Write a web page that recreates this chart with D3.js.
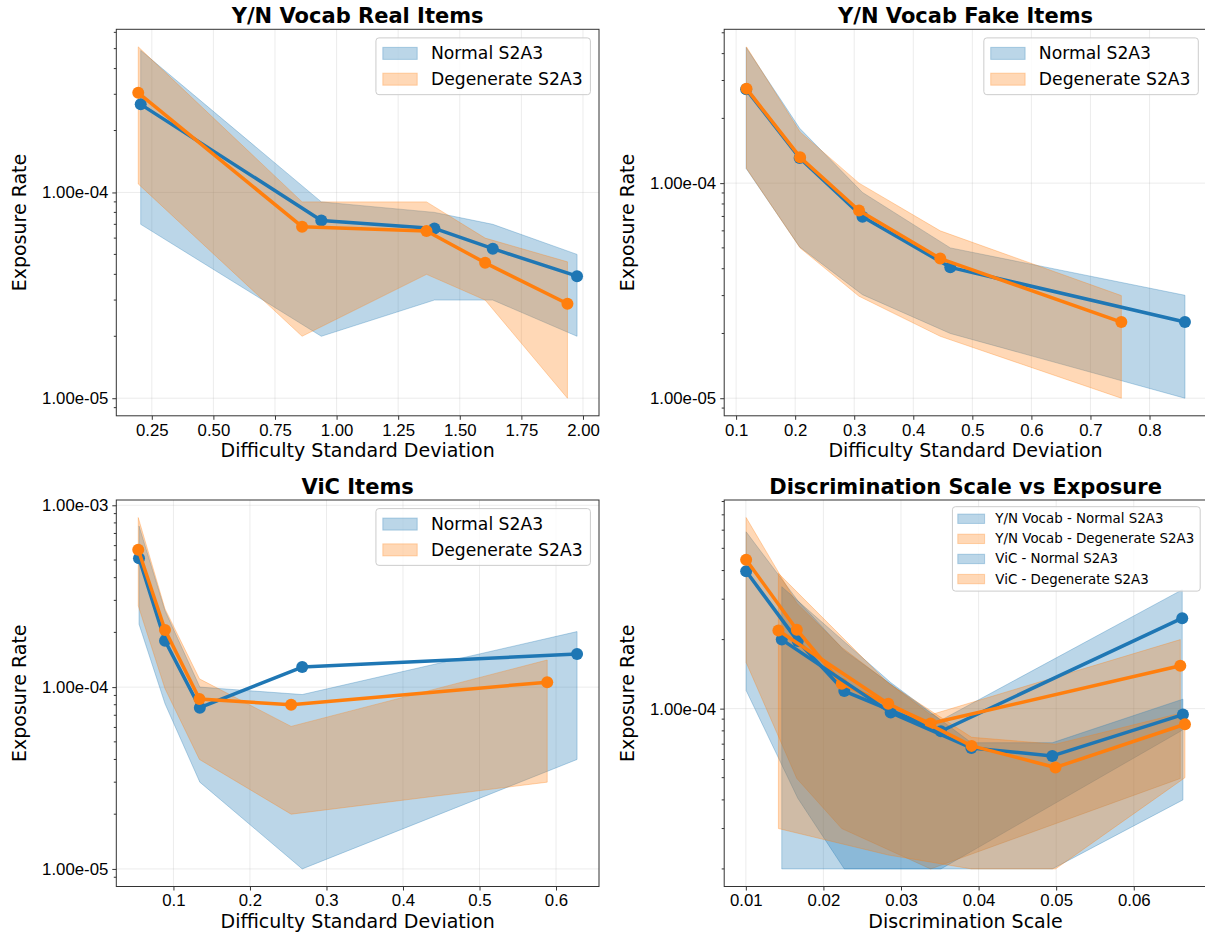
<!DOCTYPE html>
<html>
<head>
<meta charset="utf-8">
<script src="https://cdn.jsdelivr.net/npm/d3@7"></script>
<style>
  body { margin: 0; background: #fff; }
  svg { font-family: "DejaVu Sans", sans-serif; }
</style>
</head>
<body>
<svg id="chart" width="1205" height="935"></svg>
<script>
// ---- Y/N Vocab Real Items ----
const realX_normal  = [0.205, 0.938, 1.397, 1.634, 1.976];
const realY_normal  = [2.68e-4, 7.31e-5, 6.69e-5, 5.33e-5, 3.92e-5];
const realLo_normal = [7.0e-5, 2.0e-5, 3.0e-5, 3.0e-5, 2.0e-5];
const realHi_normal = [4.9e-4, 9.0e-5, 8.0e-5, 7.0e-5, 5.0e-5];
const realX_degen   = [0.195, 0.860, 1.365, 1.603, 1.937];
const realY_degen   = [3.05e-4, 6.82e-5, 6.5e-5, 4.55e-5, 2.88e-5];
const realLo_degen  = [1.1e-4, 2.0e-5, 4.0e-5, 3.0e-5, 1.0e-5];
const realHi_degen  = [5.1e-4, 9.0e-5, 9.0e-5, 6.0e-5, 4.6e-5];
const realTicks = [0.25, 0.5, 0.75, 1.0, 1.25, 1.5, 1.75, 2.0];

// ---- Y/N Vocab Fake Items ----
const fakeX_normal  = [0.117, 0.2076, 0.314, 0.4627, 0.860];
const fakeY_normal  = [2.73e-4, 1.31e-4, 6.98e-5, 4.06e-5, 2.26e-5];
const fakeLo_normal = [1.17e-4, 5.05e-5, 3.03e-5, 2.0e-5, 1.0e-5];
const fakeHi_normal = [4.27e-4, 1.8e-4, 9.05e-5, 5.0e-5, 3.01e-5];
const fakeX_degen   = [0.1176, 0.2083, 0.3081, 0.4457, 0.7523];
const fakeY_degen   = [2.75e-4, 1.32e-4, 7.46e-5, 4.46e-5, 2.26e-5];
const fakeLo_degen  = [1.17e-4, 5.0e-5, 2.98e-5, 1.94e-5, 1.0e-5];
const fakeHi_degen  = [4.3e-4, 1.73e-4, 1.0e-4, 6.0e-5, 3.0e-5];
const fakeTicks = [0.1, 0.2, 0.3, 0.4, 0.5, 0.6, 0.7, 0.8];

// ---- ViC Items ----
const vicX_normal  = [0.055, 0.089, 0.1345, 0.2683, 0.6275];
const vicY_normal  = [5.12e-4, 1.80e-4, 7.7e-5, 1.29e-4, 1.52e-4];
const vicLo_normal = [2.22e-4, 8.1e-5, 3.0e-5, 1.0e-5, 4.0e-5];
const vicHi_normal = [7.7e-4, 2.63e-4, 1.0e-4, 9.1e-5, 2.02e-4];
const vicX_degen   = [0.054, 0.089, 0.134, 0.2538, 0.5885];
const vicY_degen   = [5.69e-4, 2.06e-4, 8.6e-5, 8.0e-5, 1.065e-4];
const vicLo_degen  = [2.8e-4, 9.8e-5, 4.0e-5, 2.0e-5, 3.0e-5];
const vicHi_degen  = [8.56e-4, 2.69e-4, 1.11e-4, 6.08e-5, 1.41e-4];
const vicTicks = [0.1, 0.2, 0.3, 0.4, 0.5, 0.6];

// ---- Discrimination Scale vs Exposure ----
const discX_ynNormal  = [0.01004, 0.01669, 0.02269, 0.03514, 0.06625];
const discY_ynNormal  = [3.97e-4, 1.97e-4, 1.193e-4, 7.97e-5, 2.48e-4];
const discLo_ynNormal = [1.2e-4, 4.07e-5, 2.0e-5, 2.0e-5, 8.05e-5];
const discHi_ynNormal = [5.9e-4, 2.96e-4, 1.79e-4, 8.9e-5, 3.3e-4];
const discX_ynDegen   = [0.01004, 0.01657, 0.02236, 0.03382, 0.0660];
const discY_ynDegen   = [4.46e-4, 2.21e-4, 1.285e-4, 8.61e-5, 1.538e-4];
const discLo_ynDegen  = [1.59e-4, 4.96e-5, 3.0e-5, 2.0e-5, 4.96e-5];
const discHi_ynDegen  = [6.81e-4, 2.88e-4, 1.85e-4, 9.4e-5, 2.0e-4];
const discX_vicNormal  = [0.01463, 0.02867, 0.03907, 0.0495, 0.06634];
const discY_vicNormal  = [2.0e-4, 9.61e-5, 6.74e-5, 6.22e-5, 9.42e-5];
const discLo_vicNormal = [2.0e-5, 2.0e-5, 2.0e-5, 2.0e-5, 4.0e-5];
const discHi_vicNormal = [3.4e-4, 1.3e-4, 7.1e-5, 7.1e-5, 1.1e-4];
const discX_vicDegen   = [0.0142, 0.02836, 0.0391, 0.04991, 0.0666];
const discY_vicDegen   = [2.19e-4, 1.051e-4, 6.88e-5, 5.54e-5, 8.55e-5];
const discLo_vicDegen  = [3.0e-5, 2.3e-5, 2.0e-5, 2.0e-5, 5.0e-5];
const discHi_vicDegen  = [3.89e-4, 1.29e-4, 7.5e-5, 7.0e-5, 9.66e-5];
const discTicks = [0.01, 0.02, 0.03, 0.04, 0.05, 0.06];

const blue = "#1f77b4";
const orange = "#ff7f0e";

const svg = d3.select("#chart");

//Build series objects from the arrays
const mk = (label, color, xs, ys, lo, hi) => ({
    label, color,
    points: xs.map((x, i) => ({ x, y: ys[i], lo: lo[i], hi: hi[i] }))
});

const panels = [
    {
        title: "Y/N Vocab Real Items", xLabel: "Difficulty Standard Deviation",
        left: 116.3, top: 29.3, xTicks: realTicks, xFmt: d3.format(".2f"), legendSize: 17.2,
        series: [
            mk("Normal S2A3", blue, realX_normal, realY_normal, realLo_normal, realHi_normal),
            mk("Degenerate S2A3", orange, realX_degen, realY_degen, realLo_degen, realHi_degen),
        ],
    },
    {
        title: "Y/N Vocab Fake Items", xLabel: "Difficulty Standard Deviation",
        left: 724.2, top: 29.3, xTicks: fakeTicks, xFmt: d3.format(".1f"), legendSize: 17.2,
        series: [
            mk("Normal S2A3", blue, fakeX_normal, fakeY_normal, fakeLo_normal, fakeHi_normal),
            mk("Degenerate S2A3", orange, fakeX_degen, fakeY_degen, fakeLo_degen, fakeHi_degen),
        ],
    },
    {
        title: "ViC Items", xLabel: "Difficulty Standard Deviation",
        left: 116.3, top: 500, xTicks: vicTicks, xFmt: d3.format(".1f"), legendSize: 17.2,
        series: [
            mk("Normal S2A3", blue, vicX_normal, vicY_normal, vicLo_normal, vicHi_normal),
            mk("Degenerate S2A3", orange, vicX_degen, vicY_degen, vicLo_degen, vicHi_degen),
        ],
    },
    {
        title: "Discrimination Scale vs Exposure", xLabel: "Discrimination Scale",
        left: 724.2, top: 500, xTicks: discTicks, xFmt: d3.format(".2f"), legendSize: 13.4,
        series: [
            mk("Y/N Vocab - Normal S2A3", blue, discX_ynNormal, discY_ynNormal, discLo_ynNormal, discHi_ynNormal),
            mk("Y/N Vocab - Degenerate S2A3", orange, discX_ynDegen, discY_ynDegen, discLo_ynDegen, discHi_ynDegen),
            mk("ViC - Normal S2A3", blue, discX_vicNormal, discY_vicNormal, discLo_vicNormal, discHi_vicNormal),
            mk("ViC - Degenerate S2A3", orange, discX_vicDegen, discY_vicDegen, discLo_vicDegen, discHi_vicDegen),
        ],
    },
];

const width = 482.7, height = 386.5;

//Exponent label like 1.00e-04
const sciFmt = (v) => {
    const [m, e] = v.toExponential(2).split("e");
    const sign = e[0] === "-" ? "-" : "+";
    const digits = e.replace(/[+-]/, "").padStart(2, "0");
    return `${m}e${sign}${digits}`;
};

panels.forEach((p, pi) => {
    const g = svg.append("g").attr("transform", `translate(${p.left}, ${p.top})`);
    const all = p.series.flatMap((s) => s.points);

    // X scale with 5% margins
    const [xmin, xmax] = d3.extent(all, (d) => d.x);
    const xpad = (xmax - xmin) * 0.05;
    const xScale = d3.scaleLinear().domain([xmin - xpad, xmax + xpad]).range([0, width]);

    // Y log scale with 5% margins (in log space)
    const lmin = Math.log10(d3.min(all, (d) => d.lo));
    const lmax = Math.log10(d3.max(all, (d) => d.hi));
    const lpad = (lmax - lmin) * 0.05;
    const yScale = d3.scaleLog()
        .domain([Math.pow(10, lmin - lpad), Math.pow(10, lmax + lpad)])
        .range([height, 0]);

    const [y0, y1] = yScale.domain();
    const majors = [], minors = [];
    for (let e = Math.floor(Math.log10(y0)); e <= Math.ceil(Math.log10(y1)); e++) {
        for (let k = 1; k <= 9; k++) {
            const v = k * Math.pow(10, e);
            if (v < y0 || v > y1) continue;
            (k === 1 ? majors : minors).push(v);
        }
    }

    const clipId = `clip${pi}`;
    g.append("clipPath").attr("id", clipId)
        .append("rect").attr("width", width).attr("height", height);

    //Grid
    const grid = g.append("g").attr("stroke", "#b0b0b0").attr("stroke-opacity", 0.3).attr("stroke-width", 0.8);
    grid.selectAll(".gx").data(p.xTicks).enter().append("line")
        .attr("x1", (d) => xScale(d)).attr("x2", (d) => xScale(d))
        .attr("y1", 0).attr("y2", height);
    grid.selectAll(".gy").data(majors).enter().append("line")
        .attr("x1", 0).attr("x2", width)
        .attr("y1", (d) => yScale(d)).attr("y2", (d) => yScale(d));

    const plot = g.append("g").attr("clip-path", `url(#${clipId})`);

    //Bands first (below all lines)
    const area = d3.area()
        .x((d) => xScale(d.x))
        .y0((d) => yScale(d.lo))
        .y1((d) => yScale(d.hi));
    p.series.forEach((s) => {
        plot.append("path")
            .datum(s.points)
            .attr("d", area)
            .attr("fill", s.color).attr("fill-opacity", 0.3)
            .attr("stroke", s.color).attr("stroke-opacity", 0.3).attr("stroke-width", 1);
    });

    //Lines and markers
    const line = d3.line().x((d) => xScale(d.x)).y((d) => yScale(d.y));
    p.series.forEach((s) => {
        const sg = plot.append("g");
        sg.append("path")
            .datum(s.points)
            .attr("d", line)
            .attr("fill", "none")
            .attr("stroke", s.color).attr("stroke-width", 3.5)
            .attr("stroke-linejoin", "round");
        sg.selectAll("circle").data(s.points).enter().append("circle")
            .attr("cx", (d) => xScale(d.x))
            .attr("cy", (d) => yScale(d.y))
            .attr("r", 6)
            .attr("fill", s.color);
    });

    //Axes
    const xAxis = g.append("g")
        .attr("transform", `translate(0, ${height})`)
        .call(d3.axisBottom(xScale).tickValues(p.xTicks).tickFormat(p.xFmt).tickSize(4).tickPadding(4));
    xAxis.selectAll("text").attr("font-size", 16.8).attr("fill", "#000");

    const yAxis = g.append("g")
        .call(d3.axisLeft(yScale).tickValues(majors).tickFormat(sciFmt).tickSize(4).tickPadding(4));
    yAxis.selectAll("text").attr("font-size", 16.8).attr("fill", "#000");
    yAxis.selectAll(".minor").data(minors).enter().append("line")
        .attr("class", "minor")
        .attr("x1", 0).attr("x2", -2.5)
        .attr("y1", (d) => yScale(d)).attr("y2", (d) => yScale(d))
        .attr("stroke", "#333");

    [xAxis, yAxis].forEach((a) => {
        a.select(".domain").remove();
        a.selectAll(".tick line").attr("stroke", "#333");
    });

    //Spines
    g.append("rect")
        .attr("width", width).attr("height", height)
        .attr("fill", "none").attr("stroke", "#333").attr("stroke-width", 1);

    //Title and labels
    g.append("text")
        .attr("x", width / 2).attr("y", -6.5)
        .attr("text-anchor", "middle")
        .attr("font-size", 21).attr("font-weight", "bold")
        .text(p.title);

    g.append("text")
        .attr("x", width / 2).attr("y", height + 41)
        .attr("text-anchor", "middle")
        .attr("font-size", 19)
        .text(p.xLabel);

    g.append("text")
        .attr("transform", `translate(-97, ${height / 2}) rotate(-90)`)
        .attr("text-anchor", "middle")
        .attr("dominant-baseline", "central")
        .attr("font-size", 19)
        .text("Exposure Rate");

    //Legend
    const f = p.legendSize;
    const lg = g.append("g");
    const frame = lg.append("rect");
    const rows = lg.selectAll(".row").data(p.series).enter().append("g")
        .attr("transform", (d, i) => `translate(0, ${0.4 * f + f / 2 + i * 1.5 * f})`);
    rows.append("rect")
        .attr("x", 0.4 * f).attr("y", -0.35 * f)
        .attr("width", 2 * f).attr("height", 0.7 * f)
        .attr("fill", (d) => d.color).attr("fill-opacity", 0.3)
        .attr("stroke", (d) => d.color).attr("stroke-opacity", 0.3);
    const texts = rows.append("text")
        .attr("x", 3.2 * f)
        .attr("dominant-baseline", "central")
        .attr("font-size", f)
        .text((d) => d.label);

    let tw = 0;
    texts.each(function () { tw = Math.max(tw, this.getComputedTextLength()); });
    const lw = 3.2 * f + tw + 0.45 * f;
    const lh = 0.8 * f + p.series.length * f + (p.series.length - 1) * 0.5 * f;
    frame.attr("width", lw).attr("height", lh)
        .attr("rx", 3).attr("ry", 3)
        .attr("fill", "#fff").attr("fill-opacity", 0.8)
        .attr("stroke", "#cccccc").attr("stroke-width", 1);
    lg.attr("transform", `translate(${width - 0.5 * f - lw}, ${0.5 * f})`);
});
</script>
</body>
</html>
